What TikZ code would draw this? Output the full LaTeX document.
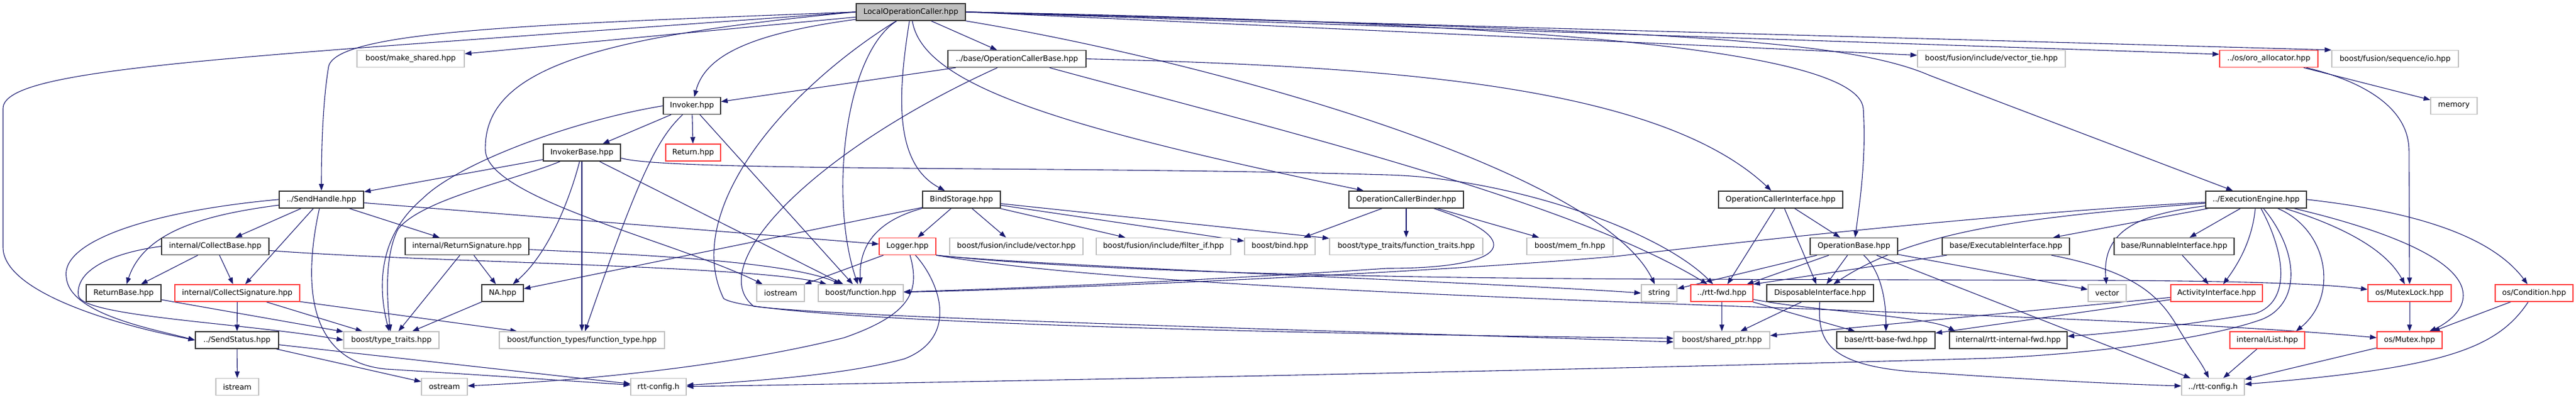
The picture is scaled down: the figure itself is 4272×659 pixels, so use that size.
\documentclass[tikz,border=0pt]{standalone}
\usepackage{fontspec}
\setmainfont{DejaVu Sans}
\usetikzlibrary{arrows.meta}
\definecolor{edgecol}{HTML}{191970}
\definecolor{extcol}{HTML}{BFBFBF}
\definecolor{trunccol}{HTML}{FF3C3C}
\definecolor{doccol}{HTML}{333333}
\pgfdeclarelayer{bottom}
\pgfdeclarelayer{edges}
\pgfsetlayers{bottom,edges,main}
\begin{document}
\begin{tikzpicture}[x=1pt,y=-1pt,
  every node/.style={font=\fontsize{12.5}{14}\selectfont, inner sep=0pt, minimum height=28pt, fill=white, line width=1.4pt},
  nodeext/.style={draw=extcol},
  nodedoc/.style={draw=doccol},
  nodetrunc/.style={draw=trunccol},
  noderoot/.style={draw=doccol, fill=extcol},
  dep/.style={draw=edgecol, line width=1.1pt, -{Triangle[length=11pt,width=8pt]}}]
\begin{pgfonlayer}{bottom}
\path[use as bounding box, fill=white] (0,0) rectangle (4272,659);
\end{pgfonlayer}
% row 0
\node[noderoot, minimum width=181pt] (root) at (1510.5,19.8) {LocalOperationCaller.hpp};
% row 1
\node[nodeext, minimum width=178pt] (makeshared) at (681,97.6) {boost/make\_shared.hpp};
\node[nodedoc, minimum width=229pt] (ocbase) at (1686.5,97.6) {../base/OperationCallerBase.hpp};
\node[nodeext, minimum width=245pt] (vectortie) at (3302.5,97.6) {boost/fusion/include/vector\_tie.hpp};
\node[nodetrunc, minimum width=163pt] (oroalloc) at (3762.5,97.6) {../os/oro\_allocator.hpp};
\node[nodeext, minimum width=210pt] (seqio) at (3972,97.6) {boost/fusion/sequence/io.hpp};
% row 2
\node[nodedoc, minimum width=95pt] (invoker) at (1147.5,175.5) {Invoker.hpp};
\node[nodeext, minimum width=77pt] (memory) at (4069.5,175.5) {memory};
% row 3
\node[nodedoc, minimum width=128pt] (invbase) at (965,253) {InvokerBase.hpp};
\node[nodetrunc, minimum width=91pt] (ret) at (1149.5,253) {Return.hpp};
% row 4
\node[nodedoc, minimum width=140pt] (sendhandle) at (533,330.8) {../SendHandle.hpp};
\node[nodedoc, minimum width=129pt] (bindst) at (1594.5,330.8) {BindStorage.hpp};
\node[nodedoc, minimum width=190pt] (binder) at (2332,330.8) {OperationCallerBinder.hpp};
\node[nodedoc, minimum width=206pt] (ocif) at (2953,330.8) {OperationCallerInterface.hpp};
\node[nodedoc, minimum width=167pt] (ee) at (3741.5,330.8) {../ExecutionEngine.hpp};
% row 5
\node[nodedoc, minimum width=178pt] (collbase) at (357,408.5) {internal/CollectBase.hpp};
\node[nodedoc, minimum width=205pt] (retsig) at (774.5,408.5) {internal/ReturnSignature.hpp};
\node[nodetrunc, minimum width=94pt] (logger) at (1505,408.5) {Logger.hpp};
\node[nodeext, minimum width=221pt] (fvec) at (1685.5,408.5) {boost/fusion/include/vector.hpp};
\node[nodeext, minimum width=223pt] (filterif) at (1929.5,408.5) {boost/fusion/include/filter\_if.hpp};
\node[nodeext, minimum width=117pt] (bind) at (2122.5,408.5) {boost/bind.hpp};
\node[nodeext, minimum width=254pt] (ftraits) at (2332,408.5) {boost/type\_traits/function\_traits.hpp};
\node[nodeext, minimum width=143pt] (memfn) at (2603.5,408.5) {boost/mem\_fn.hpp};
\node[nodedoc, minimum width=145pt] (opbase) at (3074.5,408.5) {OperationBase.hpp};
\node[nodedoc, minimum width=211pt] (execif) at (3326.5,408.5) {base/ExecutableInterface.hpp};
\node[nodedoc, minimum width=199pt] (runif) at (3605.5,408.5) {base/RunnableInterface.hpp};
% row 6
\node[nodedoc, minimum width=124pt] (retbase) at (205,486) {ReturnBase.hpp};
\node[nodetrunc, minimum width=207pt] (collsig) at (393.5,486) {internal/CollectSignature.hpp};
\node[nodedoc, minimum width=69pt] (na) at (833.5,486) {NA.hpp};
\node[nodeext, minimum width=79pt] (iostream) at (1294.5,486) {iostream};
\node[nodeext, minimum width=141pt] (function) at (1427.5,486) {boost/function.hpp};
\node[nodeext, minimum width=59pt] (string) at (2751.5,486) {string};
\node[nodetrunc, minimum width=103pt] (rttfwd) at (2855.5,486) {../rtt-fwd.hpp};
\node[nodedoc, minimum width=177pt] (dispif) at (3018.5,486) {DisposableInterface.hpp};
\node[nodeext, minimum width=63pt] (vector) at (3494.5,486) {vector};
\node[nodetrunc, minimum width=152pt] (actif) at (3676,486) {ActivityInterface.hpp};
\node[nodetrunc, minimum width=138pt] (mutexlock) at (3996,486) {os/MutexLock.hpp};
\node[nodetrunc, minimum width=129pt] (condition) at (4202.5,486) {os/Condition.hpp};
% row 7
\node[nodedoc, minimum width=138pt] (sendstatus) at (393,564) {../SendStatus.hpp};
\node[nodeext, minimum width=158pt] (ttraits) at (649,564) {boost/type\_traits.hpp};
\node[nodeext, minimum width=274pt] (ftype) at (965,564) {boost/function\_types/function\_type.hpp};
\node[nodeext, minimum width=159pt] (sharedptr) at (2855.5,564) {boost/shared\_ptr.hpp};
\node[nodedoc, minimum width=163pt] (basefwd) at (3127.5,564) {base/rtt-base-fwd.hpp};
\node[nodedoc, minimum width=195pt] (intfwd) at (3330.5,564) {internal/rtt-internal-fwd.hpp};
\node[nodetrunc, minimum width=124pt] (list) at (3760,564) {internal/List.hpp};
\node[nodetrunc, minimum width=108pt] (mutex) at (3996,564) {os/Mutex.hpp};
% row 8
\node[nodeext, minimum width=71pt] (istream) at (393.5,641.6) {istream};
\node[nodeext, minimum width=76pt] (ostream) at (737,641.6) {ostream};
\node[nodeext, minimum width=92pt] (rttconfig) at (1092,641.6) {rtt-config.h};
\node[nodeext, minimum width=104pt] (rttconfig2) at (3670,641.6) {../rtt-config.h};

\begin{pgfonlayer}{edges}
% LocalOperationCaller.hpp
\draw[dep] (root.west) .. controls (400,95) and (5,110) .. (5,180) -- (5,410) .. controls (5,475) and (150,530) .. (sendstatus.west);
\draw[dep] (root) -- (makeshared);
\draw[dep] (root.west) .. controls (900,40) and (560,50) .. (545,110) .. controls (535,170) and (533,250) .. (sendhandle.north);
\draw[dep] (root) .. controls (1250,55) and (1170,90) .. (invoker);
\draw[dep] (root) .. controls (1400,90) and (1375,330) .. (function);
\draw[dep] (root) .. controls (1300,150) and (1130,350) .. (1200,495) .. controls (1250,530) and (2000,552) .. ([yshift=3pt]sharedptr.west);
\draw[dep] (root) .. controls (1490,150) and (1480,270) .. (bindst);
\draw[dep] (root) -- (ocbase);
\draw[dep] (root) .. controls (1530,140) and (1750,210) .. (binder);
\draw[dep] (root) .. controls (2000,100) and (2650,280) .. (string);
\draw[dep] (root.east) .. controls (2400,35) and (3080,70) .. (3090,180) .. controls (3095,260) and (3085,330) .. (opbase);
\draw[dep] (root.east) .. controls (2700,50) and (3050,60) .. (3200,125) -- (ee);
\draw[dep] (root.east) -- ([yshift=6pt]vectortie.west);
\draw[dep] (root.east) -- ([yshift=7.6pt]oroalloc.west);
\draw[dep] (root.east) -- (seqio.north west);
\draw[dep] (root.west) .. controls (1000,60) and (800,110) .. (805,250) .. controls (810,330) and (1120,400) .. (iostream);
% OperationCallerBase
\draw[dep] (ocbase) -- (invoker);
\draw[dep] (ocbase) .. controls (1350,250) and (1165,440) .. (1250,508) .. controls (1400,527) and (2200,548) .. ([yshift=-3pt]sharedptr.west);
\draw[dep] (ocbase.east) .. controls (2300,110) and (2750,140) .. (ocif);
\draw[dep] (ocbase) .. controls (2100,210) and (2600,330) .. (rttfwd);
% Invoker
\draw[dep] (invoker) -- (ret);
\draw[dep] (invoker) -- (invbase);
\draw[dep] (invoker) -- (function);
\draw[dep] (invoker) .. controls (1090,230) and (1060,290) .. (ftype);
\draw[dep] (invoker.west) .. controls (950,200) and (760,270) .. (700,330) .. controls (630,390) and (625,470) .. (ttraits);
% InvokerBase
\draw[dep] (invbase) -- (ftype);
\draw[dep] (invbase) .. controls (945,330) and (910,420) .. (na);
\draw[dep] (invbase) .. controls (850,300) and (700,330) .. (660,380) .. controls (640,420) and (640,480) .. (ttraits);
\draw[dep] (invbase) -- (sendhandle);
\draw[dep] ([yshift=-9pt]invbase.east) .. controls (1100,285) and (1800,275) .. (2300,290) .. controls (2500,295) and (2750,380) .. (rttfwd);
\draw[dep] (invbase) -- (function);
% SendHandle
\draw[dep] (sendhandle) -- (collbase);
\draw[dep] (sendhandle) -- (collsig);
\draw[dep] (sendhandle) -- (retsig);
\draw[dep] (sendhandle) -- (logger);
\draw[dep] (sendhandle) .. controls (500,480) and (515,600) .. (640,612) .. controls (800,622) and (950,632) .. (rttconfig);
\draw[dep] (sendhandle) .. controls (350,355) and (240,380) .. (retbase);
\draw[dep] (sendhandle.west) .. controls (250,350) and (100,400) .. (110,460) .. controls (115,520) and (250,545) .. (sendstatus.west);
% CollectBase
\draw[dep] (collbase) -- (collsig);
\draw[dep] (collbase) -- (retbase);
\draw[dep] (collbase.west) .. controls (180,420) and (125,450) .. (130,490) .. controls (135,525) and (400,535) .. (ttraits.west);
\draw[dep] (collbase) .. controls (700,435) and (1250,440) .. (function);
% ReturnSignature
\draw[dep] (retsig) -- (na);
\draw[dep] (retsig) -- (ttraits);
\draw[dep] (retsig) .. controls (1000,420) and (1300,430) .. (function);
% Logger
\draw[dep] (logger) -- (iostream);
\draw[dep] (logger) .. controls (1525,480) and (1515,520) .. (1400,560) .. controls (1200,610) and (950,632) .. (ostream);
\draw[dep] (logger) .. controls (1560,470) and (1590,560) .. (1500,595) .. controls (1400,622) and (1250,632) .. (rttconfig);
\draw[dep] (logger.south east) .. controls (1700,440) and (2500,470) .. (string.west);
\draw[dep] (logger.south east) .. controls (1800,450) and (2300,462) .. (2800,463) -- (3500,465) .. controls (3700,466) and (3850,470) .. ([yshift=6pt]mutexlock.west);
\draw[dep] (logger.south east) .. controls (2000,500) and (3400,510) .. ([yshift=4pt]mutex.west);
% BindStorage
\draw[dep] (bindst) -- (logger);
\draw[dep] (bindst) -- (fvec);
\draw[dep] (bindst) -- (filterif);
\draw[dep] (bindst) -- (bind);
\draw[dep] (bindst) -- (ftraits);
\draw[dep] (bindst.south west) .. controls (1440,370) and (1425,420) .. (function);
\draw[dep] (bindst) -- (na);
% OperationCallerBinder
\draw[dep] (binder) -- (bind);
\draw[dep] (binder) -- (ftraits);
\draw[dep] (binder) -- (memfn);
\draw[dep] (binder) .. controls (2530,395) and (2510,445) .. (2300,445) .. controls (2000,465) and (1700,478) .. (function);
% OperationCallerInterface
\draw[dep] (ocif) -- (opbase);
\draw[dep] (ocif) -- (dispif);
\draw[dep] (ocif) -- (rttfwd);
% OperationBase
\draw[dep] (opbase) -- (rttfwd);
\draw[dep] (opbase) -- (dispif);
\draw[dep] (opbase) .. controls (3120,450) and (3128,500) .. (basefwd);
\draw[dep] (opbase) -- (string);
\draw[dep] (opbase) -- (vector);
\draw[dep] (opbase) -- (rttconfig2);
% DisposableInterface
\draw[dep] (dispif) -- (sharedptr);
\draw[dep] (dispif) .. controls (3015,560) and (3020,610) .. (3200,618) .. controls (3400,632) and (3550,638) .. (rttconfig2);
% rtt-fwd
\draw[dep] (rttfwd) -- (sharedptr);
\draw[dep] (rttfwd) -- (basefwd);
\draw[dep] (rttfwd) .. controls (3000,515) and (3200,525) .. ([xshift=10pt]intfwd.north west);
% ExecutableInterface
\draw[dep] (execif) -- (rttfwd.north east);
\draw[dep] (execif) .. controls (3540,450) and (3580,490) .. (3610,540) .. controls (3630,575) and (3650,600) .. (rttconfig2);
% RunnableInterface, ActivityInterface
\draw[dep] (runif) -- (actif);
\draw[dep] (actif) -- (sharedptr);
\draw[dep] (actif) -- (basefwd);
% ExecutionEngine
\draw[dep] (ee) -- (runif);
\draw[dep] (ee) .. controls (3735,400) and (3710,440) .. (actif);
\draw[dep] (ee) -- (execif);
\draw[dep] (ee) .. controls (3550,355) and (3485,380) .. (vector);
\draw[dep] (ee) .. controls (3350,360) and (3170,385) .. (dispif);
\draw[dep] (ee) .. controls (3300,355) and (2900,400) .. (2680,425) .. controls (2400,450) and (1800,478) .. (function);
\draw[dep] (ee) .. controls (3860,380) and (3880,490) .. ([xshift=-15pt]list.north east);
\draw[dep] (ee.east) .. controls (3950,345) and (4120,375) .. (condition);
\draw[dep] (ee) .. controls (3950,380) and (4085,430) .. (4085,490) .. controls (4085,520) and (4050,540) .. (mutex);
\draw[dep] (ee) .. controls (3900,380) and (3960,420) .. (mutexlock);
\draw[dep] (ee) .. controls (3790,420) and (3800,500) .. (3740,520) .. controls (3620,540) and (3500,553) .. (intfwd);
\draw[dep] (ee) .. controls (3815,420) and (3815,505) .. (3750,530) .. controls (3650,565) and (3450,588) .. (3300,594) .. controls (2700,612) and (1600,634) .. (rttconfig);
% os and others
\draw[dep] (list) -- (rttconfig2);
\draw[dep] (mutex) -- (rttconfig2);
\draw[dep] (condition) -- (mutex);
\draw[dep] (condition) .. controls (4140,580) and (4050,610) .. (rttconfig2);
\draw[dep] (mutexlock) -- (mutex);
\draw[dep] (oroalloc) -- (memory);
\draw[dep] (oroalloc) .. controls (3900,130) and (3995,170) .. (3995,250) -- (mutexlock);
% SendStatus
\draw[dep] (sendstatus) -- (istream);
\draw[dep] (sendstatus) -- (ostream);
\draw[dep] (sendstatus) -- (rttconfig);
% CollectSignature
\draw[dep] (collsig) -- (sendstatus);
\draw[dep] (collsig) -- (ttraits);
\draw[dep] (collsig) -- (ftype);
\draw[dep] (retbase) -- (ttraits);
\draw[dep] (na) -- (ttraits);
\end{pgfonlayer}
\end{tikzpicture}
\end{document}
